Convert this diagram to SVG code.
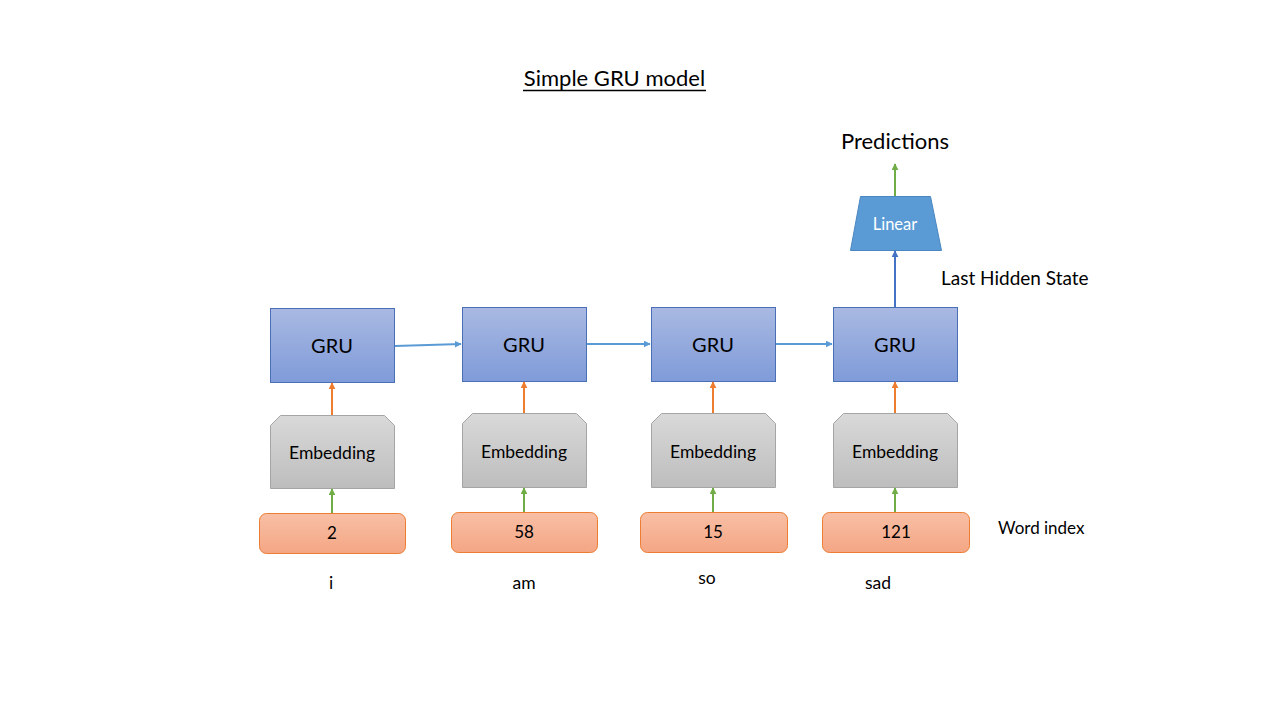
<svg xmlns="http://www.w3.org/2000/svg" width="1280" height="720" viewBox="0 0 1280 720">
<defs>
<linearGradient id="gGru" x1="0" y1="0" x2="0" y2="1"><stop offset="0" stop-color="#a9b9e2"/><stop offset="1" stop-color="#7f9bd9"/></linearGradient>
<linearGradient id="gEmb" x1="0" y1="0" x2="0" y2="1"><stop offset="0" stop-color="#d9d9d9"/><stop offset="1" stop-color="#bdbdbd"/></linearGradient>
<linearGradient id="gWord" x1="0" y1="0" x2="0" y2="1"><stop offset="0" stop-color="#f8bfa5"/><stop offset="1" stop-color="#f4a684"/></linearGradient>
<marker id="aBlue" viewBox="0 0 10 10" refX="9" refY="5" markerWidth="7" markerHeight="7" markerUnits="userSpaceOnUse" orient="auto"><path d="M0,0 L10,5 L0,10 z" fill="#5b9bd5"/></marker>
<marker id="aDark" viewBox="0 0 10 10" refX="9" refY="5" markerWidth="7" markerHeight="7" markerUnits="userSpaceOnUse" orient="auto"><path d="M0,0 L10,5 L0,10 z" fill="#4472c4"/></marker>
<marker id="aOrange" viewBox="0 0 10 10" refX="9" refY="5" markerWidth="7" markerHeight="7" markerUnits="userSpaceOnUse" orient="auto"><path d="M0,0 L10,5 L0,10 z" fill="#ed7d31"/></marker>
<marker id="aGreen" viewBox="0 0 10 10" refX="9" refY="5" markerWidth="7" markerHeight="7" markerUnits="userSpaceOnUse" orient="auto"><path d="M0,0 L10,5 L0,10 z" fill="#70ad47"/></marker>
</defs>
<style>
text{font-family:Lato,"Open Sans","Liberation Sans",sans-serif;fill:#000}
.gru{fill:url(#gGru);stroke:#4a6fb5;stroke-width:1}
.emb{fill:url(#gEmb);stroke:#a5a5a5;stroke-width:1}
.word{fill:url(#gWord);stroke:#ed7d31;stroke-width:1}
.lin{fill:#5b9bd5;stroke:#4a86c0;stroke-width:1}
.gt{font-size:20px;text-anchor:middle}
.et{font-size:17.5px;text-anchor:middle}
.wt{font-size:17px;text-anchor:middle}
.lt{font-size:17.5px;text-anchor:middle}
.cb{fill:none;stroke:#5b9bd5;stroke-width:2;marker-end:url(#aBlue)}
.cd{fill:none;stroke:#4472c4;stroke-width:2;marker-end:url(#aDark)}
.co{fill:none;stroke:#ed7d31;stroke-width:2;marker-end:url(#aOrange)}
.cg{fill:none;stroke:#70ad47;stroke-width:2;marker-end:url(#aGreen)}
</style>
<rect width="1280" height="720" fill="#ffffff"/>
<g id="title">
<text x="614.5" y="86" font-size="22" text-anchor="middle">Simple GRU model</text>
<line x1="523" y1="90.5" x2="706" y2="90.5" stroke="#000" stroke-width="1.5"/>
</g>
<g id="gru1"><rect class="gru" x="270.5" y="308.5" width="124" height="74"/><text class="gt" x="332" y="353">GRU</text></g>
<g id="gru2"><rect class="gru" x="462.5" y="307.5" width="124" height="74"/><text class="gt" x="524" y="352">GRU</text></g>
<g id="gru3"><rect class="gru" x="651.5" y="307.5" width="124" height="74"/><text class="gt" x="713" y="352">GRU</text></g>
<g id="gru4"><rect class="gru" x="833.5" y="307.5" width="124" height="74"/><text class="gt" x="895" y="352">GRU</text></g>
<g id="emb1"><path class="emb" d="M280.5,415.5 L384.5,415.5 L394.5,425.5 L394.5,488.5 L270.5,488.5 L270.5,425.5 Z"/><text class="et" x="332" y="459">Embedding</text></g>
<g id="emb2"><path class="emb" d="M472.5,413.5 L576.5,413.5 L586.5,423.5 L586.5,487.5 L462.5,487.5 L462.5,423.5 Z"/><text class="et" x="524" y="458">Embedding</text></g>
<g id="emb3"><path class="emb" d="M661.5,413.5 L765.5,413.5 L775.5,423.5 L775.5,487.5 L651.5,487.5 L651.5,423.5 Z"/><text class="et" x="713" y="458">Embedding</text></g>
<g id="emb4"><path class="emb" d="M843.5,413.5 L947.5,413.5 L957.5,423.5 L957.5,487.5 L833.5,487.5 L833.5,423.5 Z"/><text class="et" x="895" y="458">Embedding</text></g>
<g id="word1"><rect class="word" x="259.5" y="513.5" width="146" height="40" rx="7"/><text class="wt" x="332" y="539">2</text></g>
<g id="word2"><rect class="word" x="451.5" y="512.5" width="146" height="40" rx="7"/><text class="wt" x="524" y="538">58</text></g>
<g id="word3"><rect class="word" x="640.5" y="512.5" width="147" height="40" rx="7"/><text class="wt" x="713" y="538">15</text></g>
<g id="word4"><rect class="word" x="822.5" y="512.5" width="147" height="40" rx="7"/><text class="wt" x="896" y="538">121</text></g>
<g id="linear"><path class="lin" d="M860.5,196.5 L930.5,196.5 L941.5,250.5 L850.5,250.5 Z"/><text x="895" y="230" font-size="16.5" text-anchor="middle" style="fill:#ffffff">Linear</text></g>
<g id="labels">
<text x="895" y="149" font-size="22" text-anchor="middle">Predictions</text>
<text x="941" y="285" font-size="19">Last Hidden State</text>
<text x="998" y="534" font-size="17">Word index</text>
<text class="lt" x="331" y="589">i</text>
<text class="lt" x="524" y="589">am</text>
<text class="lt" x="707" y="584">so</text>
<text class="lt" x="878" y="589">sad</text>
</g>
<g id="connectors">
<line class="cb" x1="395" y1="346" x2="461" y2="344"/>
<line class="cb" x1="587" y1="344" x2="650" y2="344"/>
<line class="cb" x1="776" y1="344" x2="832" y2="344"/>
<line class="cd" x1="895" y1="307" x2="895" y2="251"/>
<line class="cg" x1="895" y1="196" x2="895" y2="164"/>
<line class="co" x1="332" y1="415" x2="332" y2="383"/>
<line class="co" x1="524" y1="413" x2="524" y2="382"/>
<line class="co" x1="713" y1="413" x2="713" y2="382"/>
<line class="co" x1="895" y1="413" x2="895" y2="382"/>
<line class="cg" x1="332" y1="513" x2="332" y2="489"/>
<line class="cg" x1="524" y1="512" x2="524" y2="488"/>
<line class="cg" x1="713" y1="512" x2="713" y2="488"/>
<line class="cg" x1="895" y1="512" x2="895" y2="488"/>
</g>
</svg>
